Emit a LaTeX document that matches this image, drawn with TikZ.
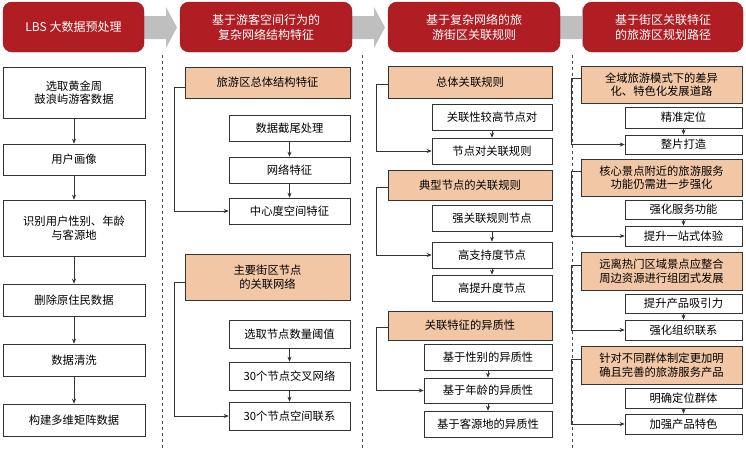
\documentclass[tikz,border=0pt]{standalone}
\usepackage{fontspec}
\setmainfont{Noto Sans CJK SC}
\usetikzlibrary{arrows.meta}
\definecolor{peach}{HTML}{F2C7A6}
\definecolor{hdred}{HTML}{B01E23}
\tikzset{
 bx/.style={draw=black!80,line width=0.6pt,fill=white,align=center,inner sep=0pt,font=\fontsize{11.3}{13.5}\selectfont},
 pk/.style={bx,fill=peach},
 hd/.style={fill=hdred,rounded corners=9pt,text=white,align=center,inner sep=0pt,font=\fontsize{12}{15}\selectfont,draw=hdred!80!black},
 arr/.style={-{Stealth[length=5pt,width=4pt]},line width=0.6pt,black!80},
 sep/.style={dashed,black!70,line width=0.5pt},
}
\newcommand{\bx}[7]{\node[#6,minimum width=#4pt-#2pt,minimum height=#5pt-#3pt] (#1) at ({(#2+#4)/2},{(#3+#5)/2}) {#7};}
\newcommand{\garrow}[1]{\fill[black!25] (#1,16)--(#1+22,16)--(#1+22,7)--(#1+33,27.5)--(#1+22,48)--(#1+22,39)--(#1,39)--cycle;}
\begin{document}
\begin{tikzpicture}[x=1pt,y=-1pt]
\useasboundingbox (0,0) rectangle (746,453);
\garrow{144}\garrow{352}\garrow{560}
\bx{h1}{3}{2}{144}{52}{hd}{LBS 大数据预处理}
\bx{h2}{180}{2}{352}{52}{hd}{基于游客空间行为的\\复杂网络结构特征}
\bx{h3}{388}{2}{560}{52}{hd}{基于复杂网络的旅\\游街区关联规则}
\bx{h4}{583}{2}{743}{52}{hd}{基于街区关联特征\\的旅游区规划路径}
\draw[sep] (162,55)--(162,448);
\draw[sep] (362,55)--(362,448);
\draw[sep] (572,55)--(572,448);
% col1
\bx{a1}{3}{67}{145}{118}{bx}{选取黄金周\\鼓浪屿游客数据}
\bx{a2}{3}{144}{145}{175}{bx}{用户画像}
\bx{a3}{3}{200}{145}{256}{bx}{识别用户性别、年龄\\与客源地}
\bx{a4}{3}{284}{145}{316}{bx}{删除原住民数据}
\bx{a5}{3}{344}{145}{376}{bx}{数据清洗}
\bx{a6}{3}{404}{145}{436}{bx}{构建多维矩阵数据}
\foreach \u/\v in {a1/a2,a2/a3,a3/a4,a4/a5,a5/a6} \draw[arr] (\u)--(\v);
% col2
\bx{b1}{185}{67}{350}{98}{pk}{旅游区总体结构特征}
\bx{b2}{229}{115}{350}{141}{bx}{数据截尾处理}
\bx{b3}{229}{157}{350}{183}{bx}{网络特征}
\bx{b4}{229}{198}{350}{224}{bx}{中心度空间特征}
\draw[arr] (b2)--(b3); \draw[arr] (b3)--(b4);
\draw[arr] ([yshift=-5pt]b1.west)--++(-10,0)|-(b4.west);
\bx{c1}{185}{254}{350}{300}{pk}{主要街区节点\\的关联网络}
\bx{c2}{229}{320}{350}{348}{bx}{选取节点数量阈值}
\bx{c3}{229}{362}{350}{390}{bx}{30个节点交叉网络}
\bx{c4}{229}{402}{350}{430}{bx}{30个节点空间联系}
\draw[arr] (c2)--(c3); \draw[arr] (c3)--(c4);
\draw[arr] ([yshift=-5pt]c1.west)--++(-10,0)|-(c4.west);
% col3
\bx{d1}{388}{66}{552}{98}{pk}{总体关联规则}
\bx{d2}{432}{104}{552}{130}{bx}{关联性较高节点对}
\bx{d3}{432}{138}{552}{164}{bx}{节点对关联规则}
\draw[arr] (d2)--(d3);
\draw[arr] ([yshift=-2pt]d1.west)--++(-11,0)|-(d3.west);
\bx{e1}{388}{170}{552}{200}{pk}{典型节点的关联规则}
\bx{e2}{432}{205}{552}{231}{bx}{强关联规则节点}
\bx{e3}{432}{242}{552}{268}{bx}{高支持度节点}
\bx{e4}{432}{275}{552}{301}{bx}{高提升度节点}
\draw[arr] (e2)--(e3); \draw[arr] (e3)--(e4);
\draw[arr] ([yshift=-2pt]e1.west)--++(-11,0)|-(e3.west);
\bx{f1}{388}{311}{552}{340}{pk}{关联特征的异质性}
\bx{f2}{424}{344}{552}{370}{bx}{基于性别的异质性}
\bx{f3}{424}{378}{552}{403}{bx}{基于年龄的异质性}
\bx{f4}{424}{411}{552}{437}{bx}{基于客源地的异质性}
\draw[arr] (f2)--(f3); \draw[arr] (f3)--(f4);
\draw[arr] ([yshift=-2pt]f1.west)--++(-11,0)|-(f3.west);
% col4
\bx{g1}{581}{66}{742}{103}{pk}{全域旅游模式下的差异\\化、特色化发展道路}
\bx{g2}{625}{107}{742}{128}{bx}{精准定位}
\bx{g3}{625}{135}{742}{154}{bx}{整片打造}
\draw[arr] (g2)--(g3);
\draw[arr] ([yshift=6pt]g1.west)--++(-9,0)|-(g3.west);
\bx{k1}{581}{159}{742}{196}{pk}{核心景点附近的旅游服务\\功能仍需进一步强化}
\bx{k2}{625}{200}{742}{219}{bx}{强化服务功能}
\bx{k3}{625}{226}{742}{246}{bx}{提升一站式体验}
\draw[arr] (k2)--(k3);
\draw[arr] ([yshift=6pt]k1.west)--++(-9,0)|-(k3.west);
\bx{m1}{581}{252}{742}{290}{pk}{远离热门区域景点应整合\\周边资源进行组团式发展}
\bx{m2}{625}{294}{742}{313}{bx}{提升产品吸引力}
\bx{m3}{625}{320}{742}{340}{bx}{强化组织联系}
\draw[arr] (m2)--(m3);
\draw[arr] ([yshift=6pt]m1.west)--++(-9,0)|-(m3.west);
\bx{n1}{581}{346}{742}{384}{pk}{针对不同群体制定更加明\\确且完善的旅游服务产品}
\bx{n2}{625}{388}{742}{408}{bx}{明确定位群体}
\bx{n3}{625}{414}{742}{434}{bx}{加强产品特色}
\draw[arr] (n2)--(n3);
\draw[arr] ([yshift=6pt]n1.west)--++(-9,0)|-(n3.west);
\end{tikzpicture}
\end{document}
